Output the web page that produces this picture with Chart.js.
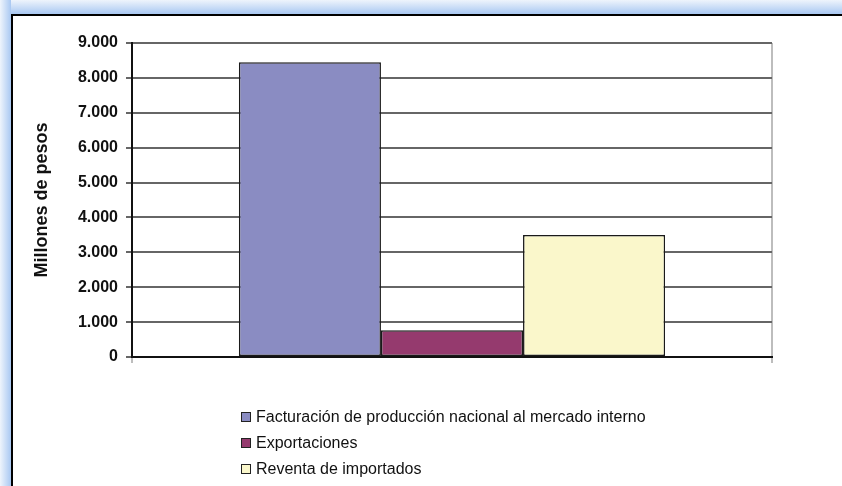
<!DOCTYPE html>
<html>
<head>
<meta charset="utf-8">
<script src="https://cdn.jsdelivr.net/npm/chart.js@4.4.0/dist/chart.umd.min.js"></script>
<style>
  html, body { margin: 0; padding: 0; width: 842px; height: 486px; overflow: hidden; background: #ffffff; }
  #glow { position: absolute; left: 0; top: 0; width: 842px; height: 486px; background: linear-gradient(to right, #eef4fc 0px, #a9c8f2 11px, transparent 11px), linear-gradient(to bottom, #eef4fc 0px, #a9c8f2 14px, transparent 14px); }
  #frame { position: absolute; left: 11px; top: 14px; width: 900px; height: 600px; border: 2px solid #000; background: #fff; }
  #wrap { position: absolute; left: 0; top: 0; width: 842px; height: 486px; }
  #legend { position: absolute; left: 241px; top: 404px; font-family: "Liberation Sans", Arial, sans-serif; font-size: 16px; color: #111; }
  .item { height: 26px; line-height: 20px; display: flex; align-items: center; }
  .sw { width: 8px; height: 8px; border: 1px solid #222; margin-right: 5px; flex: none; }
</style>
</head>
<body>
<div id="glow"></div>
<div id="frame"></div>
<div id="wrap"><canvas id="c" width="842" height="486"></canvas></div>
<div id="legend"></div>
<script>
const categories = [""];
const seriesNames = ["Facturación de producción nacional al mercado interno", "Exportaciones", "Reventa de importados"];
const facturacion = [8450];
const exportaciones = [770];
const reventa = [3500];
const seriesColors = ["#8a8cc2", "#953a6e", "#faf7cb"];
const yTicks = [0, 1000, 2000, 3000, 4000, 5000, 6000, 7000, 8000, 9000];
const yTitle = "Millones de pesos";

const seriesValues = [facturacion, exportaciones, reventa];
const datasets = seriesNames.map((n, i) => ({
  label: n,
  data: seriesValues[i],
  backgroundColor: seriesColors[i],
  borderColor: "#1a1a1a",
  borderWidth: 1.5,
  borderSkipped: false,
  categoryPercentage: 0.666,
  barPercentage: 1.0
}));

const fmt = v => v.toLocaleString("de-DE");

new Chart(document.getElementById("c"), {
  type: "bar",
  data: { labels: categories, datasets },
  options: {
    responsive: false,
    animation: false,
    events: [],
    layout: { padding: { top: 43, right: 70, bottom: 123, left: 0 } },
    plugins: { legend: { display: false }, tooltip: { enabled: false } },
    scales: {
      x: {
        offset: true,
        grid: { offset: true, color: "#bdbdbd", lineWidth: 2, tickLength: 6, drawOnChartArea: true },
        border: { color: "#111", width: 2 },
        ticks: { display: false }
      },
      y: {
        min: 0, max: 9000,
        afterFit: s => { s.width = 132; },
        afterBuildTicks: s => { s.ticks = yTicks.map(v => ({ value: v })); },
        grid: { color: "#666666", lineWidth: 2, tickLength: 6 },
        border: { color: "#111", width: 2 },
        ticks: {
          padding: 8,
          color: "#111",
          font: { family: "Liberation Sans", size: 16, weight: "bold" },
          callback: v => fmt(v)
        },
        title: {
          display: true,
          text: yTitle,
          color: "#111",
          padding: { top: 31, bottom: 0 },
          font: { family: "Liberation Sans", size: 18, weight: "bold" }
        }
      }
    }
  }
});

const lg = document.getElementById("legend");
seriesNames.forEach((n, i) => {
  const d = document.createElement("div");
  d.className = "item";
  const s = document.createElement("span");
  s.className = "sw";
  s.style.background = seriesColors[i];
  const t = document.createElement("span");
  t.textContent = n;
  d.appendChild(s); d.appendChild(t);
  lg.appendChild(d);
});
</script>
</body>
</html>
